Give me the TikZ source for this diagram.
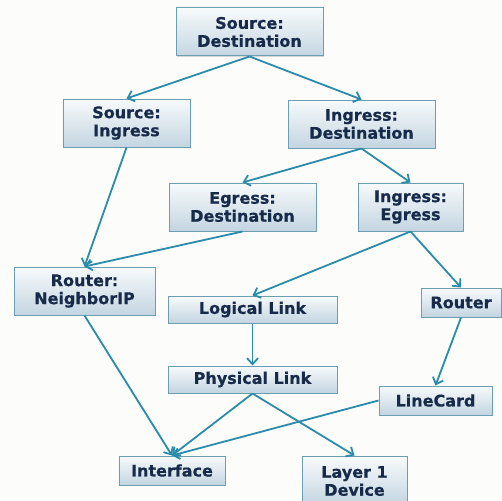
\documentclass[tikz,border=0pt]{standalone}
\usepackage{fontspec}
\setmainfont{DejaVu Sans}[BoldFeatures={FakeBold=0.5}]
\usetikzlibrary{arrows.meta,shadows}
\definecolor{bg}{HTML}{FCFCFA}
\definecolor{boxtop}{HTML}{F7FAFB}
\definecolor{boxbot}{HTML}{C3D5E1}
\definecolor{boxline}{HTML}{6A9FB2}
\definecolor{txt}{HTML}{172A4A}
\definecolor{arr}{HTML}{2A8CAA}
\tikzset{
  box/.style={draw=boxline, line width=1pt, top color=boxtop, bottom color=boxbot,
    inner sep=0pt, align=center, text=txt,
    font=\fontsize{16}{18}\selectfont\bfseries,
    drop shadow={shadow xshift=1.2pt, shadow yshift=-1.2pt, opacity=0.25, fill=black!60}},
  conn/.style={draw=arr, line width=1.8pt, -{Straight Barb[length=6pt,width=11pt,line width=1.8pt]}}
}
\begin{document}
\begin{tikzpicture}[x=1pt,y=-1pt]
\fill[bg] (0,0) rectangle (502,500);
\useasboundingbox (0,0) rectangle (502,500);
\node[box, minimum width=147pt, minimum height=48pt] (sd) at (249.5,32) {Source:\\Destination};
\node[box, minimum width=127pt, minimum height=48pt] (si) at (126.5,123) {Source:\\Ingress};
\node[box, minimum width=147pt, minimum height=48pt] (id) at (361.5,124) {Ingress:\\Destination};
\node[box, minimum width=147pt, minimum height=48pt] (ed) at (242.5,207) {Egress:\\Destination};
\node[box, minimum width=105pt, minimum height=48pt] (ie) at (410.5,207) {Ingress:\\Egress};
\node[box, minimum width=141pt, minimum height=48pt] (rn) at (84.5,291) {Router:\\NeighborIP};
\node[box, minimum width=169pt, minimum height=27pt] (ll) at (252.5,309.5) {Logical Link};
\node[box, minimum width=80pt, minimum height=29pt] (rt) at (461,302.5) {Router};
\node[box, minimum width=169pt, minimum height=27pt] (pl) at (252.5,379.5) {Physical Link};
\node[box, minimum width=113pt, minimum height=29pt] (lc) at (435.5,400.5) {LineCard};
\node[box, minimum width=106pt, minimum height=29pt] (if) at (172,470.5) {Interface};
\node[box, minimum width=105pt, minimum height=50pt] (l1) at (354.5,481) {Layer 1\\Device};
\draw[conn] (sd.south) -- (si.north);
\draw[conn] (sd.south) -- (id.north);
\draw[conn] (si.south) -- (rn.north);
\draw[conn] (id.south) -- (ed.north);
\draw[conn] (id.south) -- (ie.north);
\draw[conn] (ed.south) -- (rn.north);
\draw[conn] (ie.south) -- (ll.north);
\draw[conn] (ie.south) -- (rt.north);
\draw[conn] (ll.south) -- (pl.north);
\draw[conn] (rt.south) -- (lc.north);
\draw[conn] (rn.south) -- (if.north);
\draw[conn] (pl.south) -- (if.north);
\draw[conn] (pl.south) -- (l1.north);
\draw[conn] (lc.west) -- (if.north);
\end{tikzpicture}
\end{document}
